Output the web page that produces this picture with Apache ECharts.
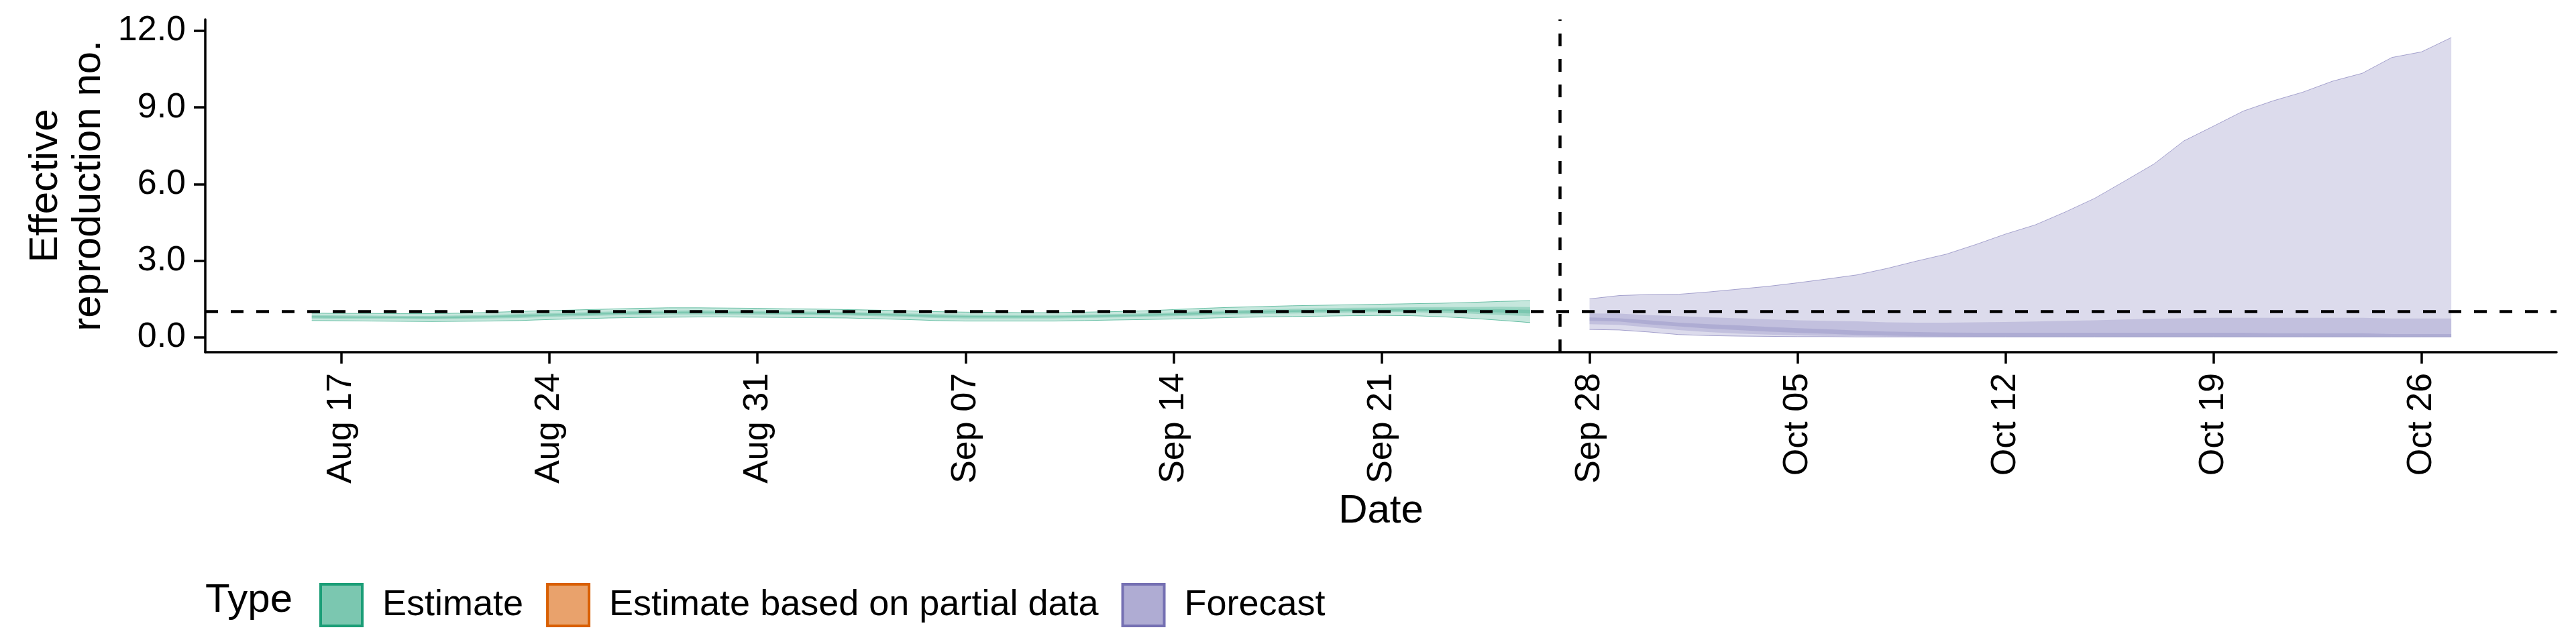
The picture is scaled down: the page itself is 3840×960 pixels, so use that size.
<!DOCTYPE html>
<html lang="en">
<head>
<meta charset="UTF-8">
<title>Effective reproduction no.</title>
<script src="https://cdn.jsdelivr.net/npm/echarts@6/dist/echarts.min.js"></script>
<style>html,body{margin:0;padding:0;background:#fff;}</style>
</head>
<body>
<div id="main" style="width:3840px;height:960px;"></div>
<script>
// estimate period (green)
var estDates = ['2020-08-16','2020-08-17','2020-08-18','2020-08-19','2020-08-20','2020-08-21','2020-08-22','2020-08-23',
  '2020-08-24','2020-08-25','2020-08-26','2020-08-27','2020-08-28','2020-08-29','2020-08-30','2020-08-31',
  '2020-09-01','2020-09-02','2020-09-03','2020-09-04','2020-09-05','2020-09-06','2020-09-07','2020-09-08',
  '2020-09-09','2020-09-10','2020-09-11','2020-09-12','2020-09-13','2020-09-14','2020-09-15','2020-09-16',
  '2020-09-17','2020-09-18','2020-09-19','2020-09-20','2020-09-21','2020-09-22','2020-09-23','2020-09-24',
  '2020-09-25','2020-09-26'];
var estLo90 = [0.65,0.64,0.63,0.62,0.61,0.62,0.63,0.65,0.69,0.72,0.75,0.77,0.78,0.79,0.79,0.78,0.77,0.76,0.75,0.72,0.69,
  0.65,0.63,0.63,0.63,0.63,0.65,0.67,0.69,0.71,0.74,0.77,0.79,0.81,0.82,0.84,0.85,0.84,0.80,0.74,0.66,0.57];
var estHi90 = [0.94,0.93,0.93,0.92,0.92,0.94,0.97,1.01,1.04,1.07,1.10,1.13,1.15,1.15,1.14,1.13,1.11,1.10,1.08,1.06,1.03,
  1.00,0.98,0.97,0.96,0.96,0.98,1.00,1.03,1.08,1.13,1.17,1.20,1.23,1.25,1.27,1.29,1.31,1.33,1.36,1.40,1.43];
var estLo50 = [0.73,0.72,0.72,0.71,0.70,0.71,0.73,0.75,0.79,0.82,0.85,0.87,0.89,0.89,0.89,0.88,0.87,0.86,0.85,0.82,0.79,
  0.75,0.73,0.73,0.73,0.73,0.75,0.77,0.79,0.82,0.85,0.89,0.91,0.93,0.95,0.97,0.98,0.98,0.95,0.92,0.87,0.82];
var estHi50 = [0.86,0.85,0.84,0.83,0.83,0.85,0.87,0.91,0.94,0.97,1.00,1.03,1.04,1.05,1.04,1.03,1.01,1.00,0.98,0.96,0.93,
  0.90,0.88,0.87,0.86,0.86,0.88,0.90,0.93,0.97,1.02,1.05,1.08,1.11,1.13,1.15,1.16,1.17,1.18,1.18,1.19,1.18];
var estLo20 = [0.77,0.76,0.76,0.75,0.74,0.75,0.77,0.80,0.84,0.87,0.90,0.92,0.94,0.94,0.94,0.93,0.91,0.90,0.89,0.86,0.83,
  0.80,0.78,0.77,0.77,0.77,0.79,0.81,0.83,0.87,0.90,0.94,0.96,0.99,1.00,1.02,1.03,1.04,1.02,1.00,0.97,0.93];
var estHi20 = [0.82,0.81,0.80,0.79,0.79,0.81,0.83,0.86,0.89,0.92,0.95,0.98,0.99,1.00,0.99,0.98,0.97,0.96,0.94,0.92,0.89,
  0.85,0.83,0.83,0.82,0.82,0.84,0.86,0.89,0.92,0.97,1.00,1.03,1.05,1.07,1.09,1.11,1.11,1.11,1.10,1.09,1.07];

// forecast period (purple)
var fcDates = ['2020-09-28','2020-09-29','2020-09-30','2020-10-01','2020-10-02','2020-10-03','2020-10-04','2020-10-05',
  '2020-10-06','2020-10-07','2020-10-08','2020-10-09','2020-10-10','2020-10-11','2020-10-12','2020-10-13',
  '2020-10-14','2020-10-15','2020-10-16','2020-10-17','2020-10-18','2020-10-19','2020-10-20','2020-10-21',
  '2020-10-22','2020-10-23','2020-10-24','2020-10-25','2020-10-26','2020-10-27'];
var fcLo90 = [0.30,0.28,0.20,0.10,0.06,0.04,0.03,0.02,0.02,0.01,0.01,0.01,0.01,0.01,0.01,0.01,0.01,0.01,0.01,0.01,
  0.01,0.01,0.01,0.01,0.01,0.01,0.01,0.01,0.01,0.01];
var fcHi90 = [1.50,1.63,1.67,1.68,1.77,1.88,1.99,2.13,2.28,2.44,2.69,2.98,3.25,3.63,4.04,4.40,4.90,5.44,6.11,6.79,
  7.69,8.27,8.86,9.26,9.60,10.03,10.34,10.96,11.18,11.74];
var fcLo50 = [0.51,0.48,0.38,0.28,0.20,0.14,0.10,0.07,0.05,0.04,0.03,0.02,0.02,0.02,0.02,0.02,0.02,0.02,0.02,0.02,
  0.02,0.02,0.02,0.02,0.02,0.02,0.02,0.02,0.02,0.02];
var fcHi50 = [0.93,0.92,0.86,0.82,0.78,0.74,0.70,0.66,0.64,0.62,0.58,0.57,0.57,0.58,0.59,0.61,0.64,0.66,0.69,0.72,
  0.74,0.76,0.76,0.76,0.76,0.76,0.76,0.73,0.73,0.73];
var fcLo20 = [0.64,0.61,0.50,0.42,0.34,0.28,0.22,0.17,0.13,0.09,0.06,0.04,0.03,0.02,0.02,0.02,0.02,0.02,0.02,0.02,
  0.02,0.02,0.02,0.02,0.02,0.02,0.02,0.02,0.02,0.02];
var fcHi20 = [0.77,0.74,0.66,0.57,0.51,0.46,0.40,0.35,0.31,0.26,0.22,0.20,0.18,0.17,0.17,0.17,0.17,0.17,0.17,0.17,
  0.17,0.17,0.17,0.15,0.15,0.15,0.15,0.12,0.12,0.12];

var tickDates = ['2020-08-17','2020-08-24','2020-08-31','2020-09-07','2020-09-14','2020-09-21',
  '2020-09-28','2020-10-05','2020-10-12','2020-10-19','2020-10-26'];
var yTicks = [0, 3, 6, 9, 12];
var cutoffDate = '2020-09-27';
var thresholdR = 1;

var typeNames = ['Estimate', 'Estimate based on partial data', 'Forecast'];
var typeColors = ['#1B9E77', '#D95F02', '#7570B3'];
var keyFills = ['rgba(27,158,119,0.58)', 'rgba(217,95,2,0.58)', 'rgba(117,112,179,0.58)'];

var FONT = '"Liberation Sans", Arial, Helvetica, sans-serif';
var MONTHS = ['Jan','Feb','Mar','Apr','May','Jun','Jul','Aug','Sep','Oct','Nov','Dec'];

function fmtDate(v) {
    var d = new Date(v);
    var day = d.getUTCDate();
    return MONTHS[d.getUTCMonth()] + ' ' + (day < 10 ? '0' + day : day);
}

// one credible-interval ribbon, drawn as a polygon through the axis scales
function ribbon(name, color, dates, lo, hi, lineW) {
    var xs = dates.map(function (d) { return Date.parse(d); });
    return {
        name: name, type: 'custom', silent: true, z: 2,
        data: [[xs[0], lo[0]]],
        renderItem: function (params, api) {
            var top = xs.map(function (x, i) { return api.coord([x, hi[i]]); });
            var bot = xs.map(function (x, i) { return api.coord([x, lo[i]]); });
            var kids = [{
                type: 'polygon',
                shape: {points: top.concat(bot.slice().reverse())},
                style: {fill: echarts.color.modifyAlpha(color, 0.25)}
            }];
            if (lineW) {
                kids.push({type: 'polyline', shape: {points: top},
                           style: {stroke: color, lineWidth: lineW, fill: null, opacity: 0.6}});
                kids.push({type: 'polyline', shape: {points: bot},
                           style: {stroke: color, lineWidth: lineW, fill: null, opacity: 0.6}});
            }
            return {type: 'group', children: kids};
        }
    };
}

var series = [
    ribbon(typeNames[0], typeColors[0], estDates, estLo90, estHi90, 1),
    ribbon(typeNames[0], typeColors[0], estDates, estLo50, estHi50, 0),
    ribbon(typeNames[0], typeColors[0], estDates, estLo20, estHi20, 0),
    ribbon(typeNames[2], typeColors[2], fcDates, fcLo90, fcHi90, 1),
    ribbon(typeNames[2], typeColors[2], fcDates, fcLo50, fcHi50, 0),
    ribbon(typeNames[2], typeColors[2], fcDates, fcLo20, fcHi20, 0),
    // no partial-data estimates in this plot, kept for the legend
    {name: typeNames[1], type: 'line', data: [], symbol: 'none'},
    {
        name: 'ref', type: 'line', data: [], z: 10,
        markLine: {
            silent: true, symbol: 'none', label: {show: false},
            lineStyle: {color: '#000', width: 4.5, type: [19, 19]},
            data: [{xAxis: Date.parse(cutoffDate)}, {yAxis: thresholdR}]
        }
    }
];

var xTicks = tickDates.map(function (d) { return Date.parse(d); });

var myChart = echarts.init(document.getElementById('main'));
var option = {
    animation: false,
    backgroundColor: '#fff',
    textStyle: {fontFamily: FONT},
    grid: {left: 306, right: 29, top: 29, bottom: 435, containLabel: false},
    xAxis: {
        type: 'value',
        scale: true,
        min: Date.UTC(2020, 7, 12, 10),
        max: Date.UTC(2020, 9, 30, 13),
        name: 'Date',
        nameLocation: 'middle',
        nameGap: 207,
        nameTextStyle: {fontSize: 60, color: '#000', fontFamily: FONT},
        axisLine: {onZero: false, lineStyle: {color: '#000', width: 3.5}},
        axisTick: {length: 17, lineStyle: {color: '#000', width: 3.5}, customValues: xTicks},
        axisLabel: {
            rotate: 90, margin: 31, fontSize: 52, color: '#000', fontFamily: FONT,
            padding: [38, 0, 0, 0],
            customValues: xTicks,
            formatter: fmtDate
        },
        splitLine: {show: false}
    },
    yAxis: {
        type: 'value',
        min: -0.59,
        max: 12.45,
        name: 'Effective\nreproduction no.',
        nameLocation: 'middle',
        nameGap: 142,
        nameTextStyle: {fontSize: 60, lineHeight: 64, color: '#000', fontFamily: FONT, align: 'center'},
        axisLine: {show: true, onZero: false, lineStyle: {color: '#000', width: 3.5}},
        axisTick: {show: true, length: 17, lineStyle: {color: '#000', width: 3.5}, customValues: yTicks},
        axisLabel: {margin: 29, fontSize: 52, color: '#000', fontFamily: FONT, customValues: yTicks,
                    formatter: function (v) { return v.toFixed(1); }},
        splitLine: {show: false}
    },
    legend: {
        left: 471, top: 864,
        itemWidth: 62, itemHeight: 62, itemGap: 34,
        selectedMode: false,
        textStyle: {fontSize: 54, color: '#000', fontFamily: FONT, padding: [0, 0, 0, 25]},
        data: typeNames.map(function (n, i) {
            return {name: n, icon: 'rect',
                    itemStyle: {color: keyFills[i], borderColor: typeColors[i], borderWidth: 4}};
        })
    },
    graphic: [{
        type: 'text', x: 306, y: 895,
        style: {text: 'Type', fontSize: 60, fontFamily: FONT, fill: '#000', verticalAlign: 'middle', align: 'left'}
    }],
    series: series
};
myChart.setOption(option);
</script>
</body>
</html>
